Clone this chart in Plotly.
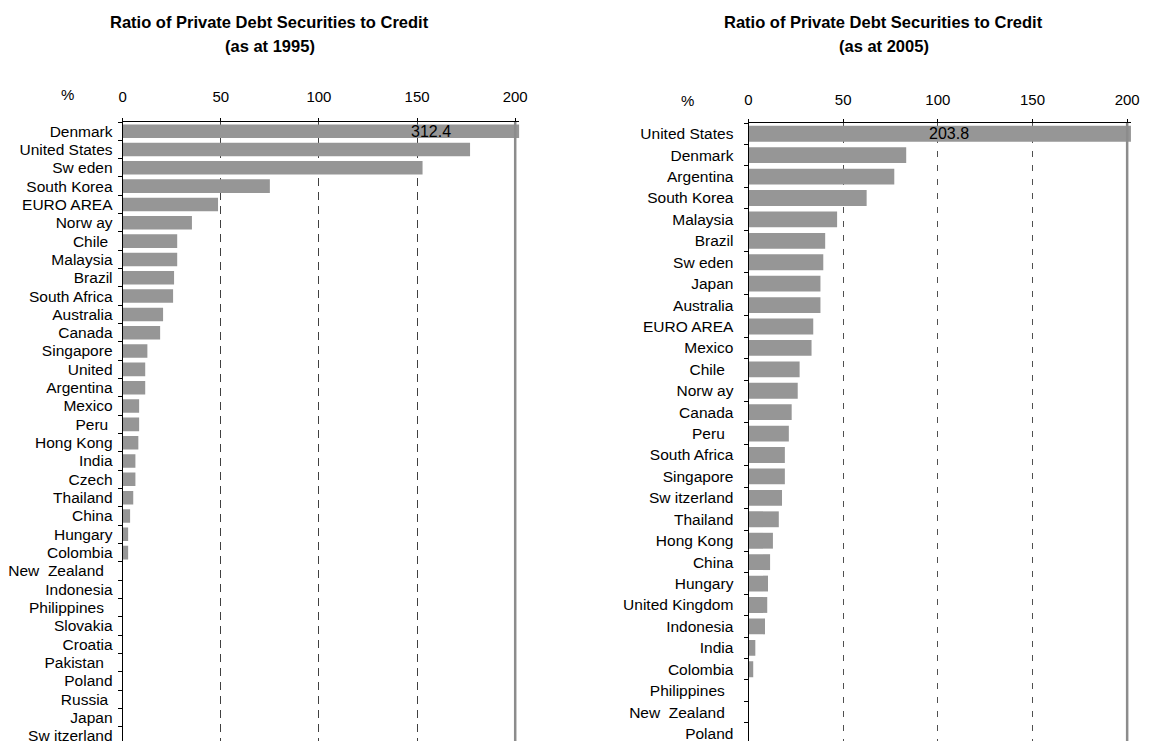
import plotly.graph_objects as go

# ---- data ----
countries_1995 = ["Denmark", "United States", "Sw eden", "South Korea", "EURO AREA", "Norw ay",
                  "Chile\u00a0", "Malaysia", "Brazil", "South Africa", "Australia", "Canada",
                  "Singapore", "United", "Argentina", "Mexico", "Peru\u00a0", "Hong Kong", "India",
                  "Czech", "Thailand", "China", "Hungary", "Colombia", "New  Zealand\u00a0\u00a0",
                  "Indonesia", "Philippines\u00a0\u00a0", "Slovakia", "Croatia", "Pakistan\u00a0\u00a0",
                  "Poland", "Russia\u00a0", "Japan", "Sw itzerland"]
values_1995 = [312.4, 177, 152.8, 75, 48.6, 35.3, 27.8, 27.8, 26.2, 25.7, 20.6, 19.1,
               12.6, 11.5, 11.5, 8.4, 8.4, 8.0, 6.5, 6.5, 5.4, 3.8, 2.8, 2.8, 0,
               0, 0, 0, 0, 0, 0, 0, 0, 0]

countries_2005 = ["United States", "Denmark", "Argentina", "South Korea", "Malaysia", "Brazil",
                  "Sw eden", "Japan", "Australia", "EURO AREA", "Mexico", "Chile\u00a0\u00a0", "Norw ay",
                  "Canada", "Peru\u00a0\u00a0", "South Africa", "Singapore", "Sw itzerland", "Thailand",
                  "Hong Kong", "China", "Hungary", "United Kingdom", "Indonesia", "India",
                  "Colombia", "Philippines\u00a0\u00a0", "New  Zealand\u00a0\u00a0", "Poland"]
values_2005 = [203.8, 83.3, 77.0, 62.4, 46.8, 40.5, 39.5, 38.0, 38.0, 34.2, 33.3, 27.0, 26.0,
               22.8, 21.3, 19.2, 19.2, 17.7, 16.0, 12.9, 11.4, 10.3, 9.9, 8.7, 3.6,
               2.5, 0, 0, 0]

x_ticks = [0, 50, 100, 150, 200]
title_line1 = "Ratio of Private Debt Securities to Credit"
title_1995 = "(as at 1995)"
title_2005 = "(as at 2005)"
label_1995 = "312.4"
label_2005 = "203.8"

FONT = "Liberation Sans, Arial, sans-serif"
BAR = "#969696"
W, H = 1152, 744

def px(x):
    return x / W

def py(y):
    return 1 - y / H

fig = go.Figure()
fig.add_trace(go.Bar(x=values_1995, y=countries_1995, orientation="h", marker_color=BAR,
                     marker_line_width=0, xaxis="x", yaxis="y", hoverinfo="x+y"))
fig.add_trace(go.Bar(x=values_2005, y=countries_2005, orientation="h", marker_color=BAR,
                     marker_line_width=0, xaxis="x2", yaxis="y2", hoverinfo="x+y"))

def xaxis_style(griddash, gridcolor, standoff):
    return dict(side="top", tickmode="array", tickvals=x_ticks,
                ticktext=[str(t) for t in x_ticks],
                showgrid=True, gridcolor=gridcolor, griddash=griddash, gridwidth=1,
                zeroline=False, showline=True, linecolor="#000000", linewidth=1,
                ticks="outside", ticklen=3, tickcolor="#000000",
                tickfont=dict(family=FONT, size=15, color="#000000"),
                ticklabelstandoff=standoff, fixedrange=True)

def yaxis_style(cats, standoff):
    return dict(type="category", categoryorder="array", categoryarray=cats,
                tickmode="array", tickvals=cats, ticktext=cats,
                showgrid=False, zeroline=False, showline=True,
                linecolor="#000000", linewidth=1, ticks="outside", ticklen=4,
                tickcolor="#000000", tickson="boundaries",
                tickfont=dict(family=FONT, size=15.5, color="#000000"),
                ticklabelstandoff=standoff, fixedrange=True)

fig.update_layout(
    width=W, height=H,
    margin=dict(l=0, r=0, t=0, b=0),
    paper_bgcolor="white", plot_bgcolor="white",
    showlegend=False, bargap=0.26,
    font=dict(family=FONT, color="#000000"),
    xaxis=dict(domain=[px(120), px(521)], range=[0, 202], anchor="y",
               **xaxis_style("8px,6px", "#404040", 10)),
    yaxis=dict(domain=[0, py(122.5)], range=[33.28, -0.5], anchor="x",
               **yaxis_style(countries_1995, 6)),
    xaxis2=dict(domain=[px(753), px(1139.8)], range=[0, 202], anchor="y2",
                **xaxis_style("6px,8px", "#505050", 8)),
    yaxis2=dict(domain=[0, py(123.5)], range=[28.35, -0.5], anchor="x2",
                **yaxis_style(countries_2005, 11)),
)

# solid grey reference lines at 200
for xr, yr in (("x", "y domain"), ("x2", "y2 domain")):
    fig.add_shape(type="line", xref=xr, yref=yr, x0=200, x1=200, y0=0, y1=1,
                  line=dict(color="#8c8c8c", width=2.5), layer="above")

# titles (two lines each)
for cx, sub in ((269, title_1995), (890, title_2005)):
    fig.add_annotation(text="<b>" + title_line1 + "</b>", xref="paper", yref="paper",
                       x=px(cx), y=py(22), xanchor="center", yanchor="middle",
                       showarrow=False, font=dict(family=FONT, size=16.5, color="#000000"))
    fig.add_annotation(text="<b>" + sub + "</b>", xref="paper", yref="paper",
                       x=px(cx), y=py(46), xanchor="center", yanchor="middle",
                       showarrow=False, font=dict(family=FONT, size=16.5, color="#000000"))

# % labels
fig.add_annotation(text="%", xref="paper", yref="paper", x=px(64), y=py(95),
                   xanchor="center", yanchor="middle", showarrow=False,
                   font=dict(family=FONT, size=15, color="#000000"))
fig.add_annotation(text="%", xref="paper", yref="paper", x=px(691), y=py(101),
                   xanchor="center", yanchor="middle", showarrow=False,
                   font=dict(family=FONT, size=15, color="#000000"))

# value labels on the clipped bars
fig.add_annotation(text=label_1995, xref="x", yref="y", x=157, y=countries_1995[0],
                   xanchor="center", showarrow=False,
                   font=dict(family=FONT, size=16, color="#000000"))
fig.add_annotation(text=label_2005, xref="x2", yref="y2", x=106, y=countries_2005[0],
                   xanchor="center", showarrow=False,
                   font=dict(family=FONT, size=16, color="#000000"))

fig.write_html("out.html", config={"displayModeBar": False},
               post_script="document.body.style.margin='0';document.body.style.overflow='hidden';")
